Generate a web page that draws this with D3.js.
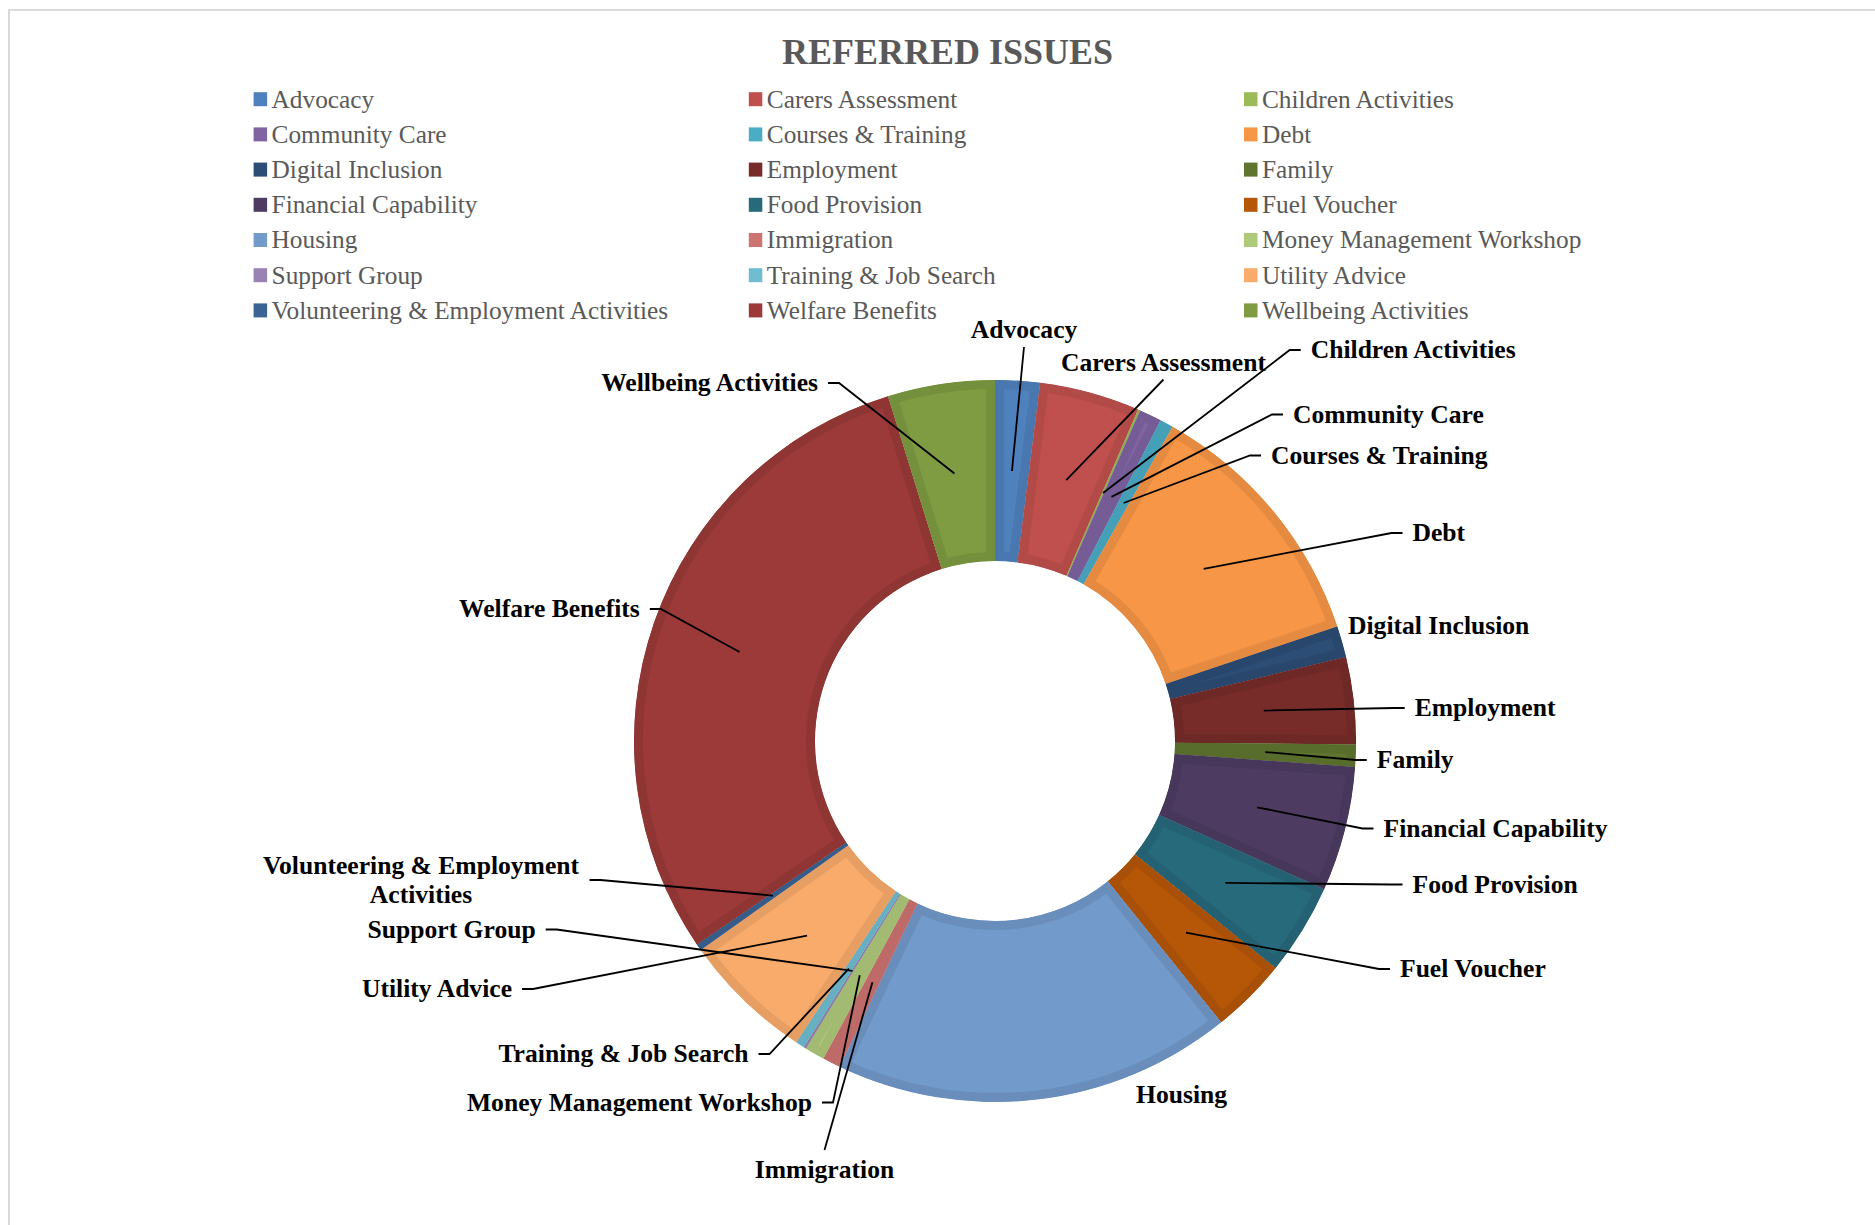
<!DOCTYPE html>
<html>
<head>
<meta charset="utf-8">
<title>Referred Issues</title>
<script src="https://cdn.jsdelivr.net/npm/d3@7"></script>
<style>
    body { margin: 0; background: #ffffff; }
    .title { font-family: "Liberation Serif", serif; font-weight: bold; font-size: 36px; fill: #595959; }
    .legend text { font-family: "Liberation Serif", serif; font-size: 25.3px; fill: #595959; }
    .label { font-family: "Liberation Serif", serif; font-weight: bold; font-size: 25.6px; fill: #000000; }
    .leader { fill: none; stroke: #000000; stroke-width: 1.8; }
</style>
</head>
<body>
<div id="chart"></div>
<script>
//Chart data
var chartTitle = "REFERRED ISSUES";

var categories = [
    "Advocacy", "Carers Assessment", "Children Activities",
    "Community Care", "Courses & Training", "Debt",
    "Digital Inclusion", "Employment", "Family",
    "Financial Capability", "Food Provision", "Fuel Voucher",
    "Housing", "Immigration", "Money Management Workshop",
    "Support Group", "Training & Job Search", "Utility Advice",
    "Volunteering & Employment Activities", "Welfare Benefits", "Wellbeing Activities"
];

var values = [20, 45, 1, 10, 6, 117, 14, 39, 10, 56, 41, 34, 179, 8, 9, 1, 4, 59, 3, 298, 48];

var colors = [
    "#4F81BD", "#C0504D", "#9BBB59",
    "#8064A2", "#4BACC6", "#F79646",
    "#2C4D75", "#772C2A", "#5F7530",
    "#4D3B62", "#276A7C", "#B65708",
    "#729ACA", "#CD7371", "#AFC97A",
    "#9983B5", "#6FBDD1", "#F9AB6B",
    "#3A6494", "#9B3A38", "#7F9C42"
];

//Hand placed data labels (same order as categories): x, y, anchor, leader type
var labelSpots = [
    [1024, 330, "middle", "below"],
    [1163.5, 362.5, "middle", "below"],
    [1310.7, 350, "start", "side"],
    [1293, 414.5, "start", "side"],
    [1271, 455.5, "start", "side"],
    [1412.5, 533, "start", "side"],
    [1348, 626, "start", "none"],
    [1414.7, 708, "start", "side"],
    [1376.8, 760, "start", "side"],
    [1383.5, 828.5, "start", "side"],
    [1412.5, 884.5, "start", "side"],
    [1400, 969, "start", "side"],
    [1136, 1094.5, "start", "none"],
    [824.5, 1170, "middle", "above"],
    [812, 1102.5, "end", "side"],
    [535.7, 929.5, "end", "side"],
    [748.5, 1054, "end", "side"],
    [512, 989, "end", "side"],
    [421, 880, "middle", "side"],
    [639.8, 609, "end", "side"],
    [818, 383, "end", "side"]
];

//Layout
var width = 1875, height = 1225;
var cx = 995, cy = 741;
var outerR = 361, innerR = 180;
var bandWidth = 9;

var svg = d3.select("#chart").append("svg")
    .attr("width", width)
    .attr("height", height);

//Chart frame
svg.append("rect")
    .attr("x", 9).attr("y", 10)
    .attr("width", 1900).attr("height", 1300)
    .style("fill", "#ffffff")
    .style("stroke", "#D9D9D9")
    .style("stroke-width", 2);

//Title
svg.append("text")
    .attr("class", "title")
    .attr("x", 947.5)
    .attr("y", 52)
    .attr("dy", "0.33em")
    .attr("text-anchor", "middle")
    .text(chartTitle);

var color = d3.scaleOrdinal()
    .domain(categories)
    .range(colors);

var data = categories.map(function(c, i) {
    return {name: c, value: values[i]};
});

//Legend, three columns
var legendCols = [253.6, 748.8, 1244];
var legendTop = 99.2, legendStep = 35.2;

var legend = svg.append("g")
    .attr("class", "legend")
    .selectAll("g")
    .data(data)
    .enter()
    .append("g")
    .attr("transform", function(d, i) {
        return "translate(" + legendCols[i % 3] + "," + (legendTop + Math.floor(i / 3) * legendStep) + ")";
    });

legend.append("rect")
    .attr("x", 0)
    .attr("y", -7)
    .attr("width", 13.5)
    .attr("height", 14)
    .style("fill", function(d) { return color(d.name); });

legend.append("text")
    .attr("x", 18)
    .attr("y", 0)
    .attr("dy", "0.33em")
    .text(function(d) { return d.name; });

//Pie and arc generators
var pie = d3.pie()
    .value(function(d) { return d.value; })
    .sort(null);

var arc = d3.arc()
    .innerRadius(innerR)
    .outerRadius(outerR);

var arcs = pie(data);

var g = svg.append("g")
    .attr("transform", "translate(" + cx + "," + cy + ")");

//Clip each slice to itself so its darker border only shows inside
g.append("defs")
    .selectAll("clipPath")
    .data(arcs)
    .enter()
    .append("clipPath")
    .attr("id", function(d, i) { return "slice" + i; })
    .append("path")
    .attr("d", arc);

g.selectAll(".slice")
    .data(arcs)
    .enter()
    .append("path")
    .attr("class", "slice")
    .attr("d", arc)
    .attr("clip-path", function(d, i) { return "url(#slice" + i + ")"; })
    .style("fill", function(d) { return color(d.data.name); })
    .style("stroke", function(d) { return d3.rgb(color(d.data.name)).darker(0.22); })
    .style("stroke-width", bandWidth * 2)
    .style("stroke-linejoin", "miter");

//Data labels with leader lines
var labelLayer = svg.append("g");
var lineLayer = svg.append("g");
var maxLabelWidth = 370;
var lineHeight = 28.3;

arcs.forEach(function(d, i) {
    var spot = labelSpots[i];
    var t = labelLayer.append("text")
        .attr("class", "label")
        .attr("text-anchor", spot[2]);

    //wrap long labels onto two lines
    var words = d.data.name.split(" ");
    var lines = [];
    var current = [];
    var probe = t.append("tspan");
    words.forEach(function(w) {
        current.push(w);
        probe.text(current.join(" "));
        if (probe.node().getComputedTextLength() > maxLabelWidth && current.length > 1) {
            current.pop();
            lines.push(current.join(" "));
            current = [w];
        }
    });
    lines.push(current.join(" "));
    probe.remove();

    lines.forEach(function(line, k) {
        t.append("tspan")
            .attr("x", spot[0])
            .attr("y", spot[1] + (k - (lines.length - 1) / 2) * lineHeight)
            .attr("dy", "0.33em")
            .text(line);
    });

    if (spot[3] == "none") return;

    var c = arc.centroid(d);
    var start = [c[0] + cx, c[1] + cy];
    var pts = [start];
    var box = t.node().getBBox();

    if (spot[3] == "side") {
        var rightSide = box.x + box.width / 2 > cx;
        var endX = rightSide ? box.x - 10 : box.x + box.width + 10;
        var elbowX = rightSide ? endX - 11 : endX + 11;
        pts.push([elbowX, spot[1]]);
        pts.push([endX, spot[1]]);
    } else if (spot[3] == "below") {
        pts.push([spot[0], spot[1] + 17]);
    } else {
        pts.push([spot[0], spot[1] - 20]);
    }

    lineLayer.append("path")
        .attr("class", "leader")
        .attr("d", d3.line()(pts));
});
</script>
</body>
</html>
